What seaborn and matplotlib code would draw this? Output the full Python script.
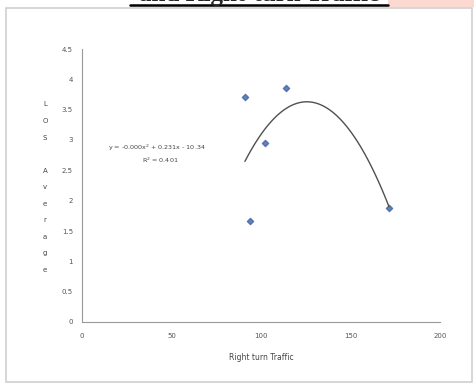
import numpy as np
import pandas as pd
import matplotlib
matplotlib.use("Agg")
import matplotlib.pyplot as plt
import seaborn as sns
from matplotlib.patches import Rectangle

# datos
right_turn = [91, 94, 102, 114, 171.5]
los_avg = [3.71, 1.66, 2.95, 3.85, 1.88]
x_ticks = [0, 50, 100, 150, 200]
y_ticks = [0, 0.5, 1, 1.5, 2, 2.5, 3, 3.5, 4, 4.5]
y_tick_labels = ["0", "0.5", "1", "1.5", "2", "2.5", "3", "3.5", "4", "4.5"]
eq_text = "y = -0.000x$^2$ + 0.231x - 10.34"
r2_text = "R$^2$ = 0.401"

df = pd.DataFrame({"Right turn Traffic": right_turn, "LOS Average": los_avg})

sns.set_style("white")
plt.rcParams['font.family'] = ['DejaVu Sans']

fig = plt.figure(figsize=(4.74, 3.87), dpi=100)
fig.patch.set_facecolor("white")

# marco del grafico y franja del titulo cortado
fig.add_artist(Rectangle((6/474, 1 - 382/387), 466/474, 374/387, transform=fig.transFigure,
                         fill=False, edgecolor="#d0d0d0", lw=1.2))
fig.add_artist(Rectangle((388/474, 1 - 7/387), 86/474, 7/387, transform=fig.transFigure,
                         facecolor="#fbd9d0", edgecolor="none"))
fig.text(259/474, 1 - 1.5/387, "and Right-turn Traffic", ha="center", va="baseline",
         fontsize=18, fontweight="bold", family="Liberation Serif")
fig.add_artist(plt.Line2D([130/474, 388/474], [1 - 5/387, 1 - 5/387],
                          transform=fig.transFigure, color="black", lw=1.8))

ax = fig.add_axes([82/474, 65/387, 358/474, 273/387])
sns.regplot(data=df, x="Right turn Traffic", y="LOS Average", order=2, ci=None, ax=ax,
            marker="D", scatter_kws={"s": 10, "color": "#3f63a8"},
            line_kws={"color": "#505050", "lw": 1.0})

ax.set_xlim(0, 200)
ax.set_ylim(0, 4.5)
ax.set_xticks(x_ticks)
ax.set_yticks(y_ticks)
ax.set_yticklabels(y_tick_labels)
ax.tick_params(axis="both", labelsize=5, colors="#777777", length=3, width=0.6,
               direction="out", labelcolor="#555555")
ax.tick_params(axis="x", length=0, pad=8)
for s in ["top", "right"]:
    ax.spines[s].set_visible(False)
for s in ["left", "bottom"]:
    ax.spines[s].set_color("#999999")
    ax.spines[s].set_linewidth(0.8)

ax.set_xlabel("Right turn Traffic", fontsize=5.5, color="#444444", labelpad=10)
ax.set_ylabel("")
fig.text(45/474, 1 - 187/387, "\n".join("LOS Average"), ha="center", va="center",
         fontsize=5, color="#444444", linespacing=3.1)

ax.text(42, 2.87, eq_text, transform=ax.transData, fontsize=4.6, color="#444444",
        ha="center", va="center")
ax.text(44, 2.67, r2_text, transform=ax.transData, fontsize=4.6, color="#444444",
        ha="center", va="center")

plt.savefig("out.png", dpi=100)
